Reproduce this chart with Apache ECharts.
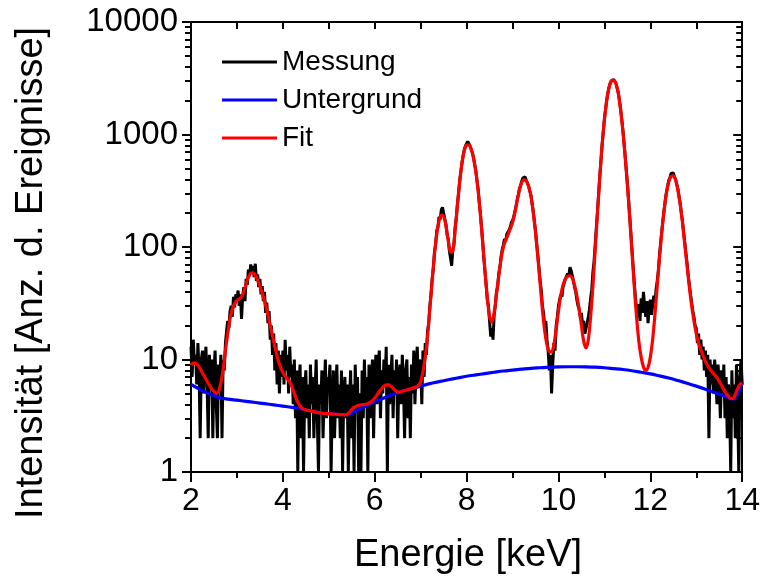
<!DOCTYPE html>
<html>
<head>
<meta charset="utf-8">
<script src="https://cdn.jsdelivr.net/npm/echarts@6/dist/echarts.min.js"></script>
<style>
  html, body { margin: 0; padding: 0; background: #fff; }
  #chart { width: 763px; height: 584px; }
</style>
</head>
<body>
<div id="chart"></div>
<script>
// EDX-Spektrum: gemessene Zählrate, Untergrund und Fit über der Energie

const FONT = '"Liberation Sans", Arial, Helvetica, sans-serif';

// Messkanäle: Start 2 keV, Breite 0.025 keV
const messungStart = 2.0;
const messungStep = 0.025;
const messung = [
  // 2.000 – 2.975 keV
  13, 7, 15, 9, 11, 6, 14, 8, 2, 10, 12, 5, 9, 13, 6, 2, 11, 7, 10, 2,
  8, 12, 4, 2, 9, 6, 11, 2, 10, 8, 14, 18, 22, 19, 27, 30, 24, 36, 29, 38,
  // 3.000 – 3.975 keV
  35, 41, 30, 38, 23, 36, 44, 33, 52, 46, 63, 55, 70, 58, 68, 54, 71, 50, 57, 44,
  52, 38, 45, 33, 40, 26, 32, 21, 27, 15, 20, 11, 17, 8, 14, 6, 12, 5, 11, 7,
  // 4.000 – 4.975 keV
  12, 6, 15, 8, 11, 5, 13, 7, 9, 4, 10, 3, 8, 1, 6, 9, 2, 7, 1, 5,
  8, 3, 6, 2, 9, 4, 7, 2, 5, 10, 3, 1, 6, 4, 8, 2, 5, 10, 3, 7,
  // 5.000 – 5.975 keV
  6, 9, 1, 4, 8, 2, 5, 9, 3, 6, 2, 8, 1, 5, 7, 3, 6, 1, 4, 8,
  2, 6, 1, 9, 4, 7, 1, 5, 1, 8, 3, 10, 4, 7, 1, 9, 3, 6, 10, 2,
  // 6.000 – 6.975 keV
  7, 11, 4, 9, 12, 3, 8, 5, 10, 6, 13, 1, 9, 4, 7, 11, 3, 8, 5, 10,
  2, 7, 9, 4, 11, 6, 2, 8, 10, 3, 7, 2, 9, 5, 12, 4, 8, 13, 6, 10,
  // 7.000 – 7.975 keV
  9, 4, 12, 7, 14, 11, 18, 21, 30, 38, 52, 64, 90, 105, 140, 150, 185, 175, 215, 225,
  200, 178, 160, 128, 118, 92, 80, 68, 95, 105, 150, 180, 240, 300, 390, 470, 560, 650, 735, 790,
  // 8.000 – 8.975 keV
  830, 870, 850, 790, 760, 690, 630, 545, 480, 395, 330, 250, 200, 150, 112, 80, 60, 46, 34, 30,
  22, 16, 19, 15, 25, 30, 40, 44, 58, 66, 82, 95, 104, 118, 112, 130, 125, 142, 150, 165,
  // 9.000 – 9.975 keV
  172, 185, 205, 230, 262, 290, 330, 350, 385, 410, 400, 420, 390, 370, 350, 315, 290, 245, 210, 170,
  140, 108, 85, 66, 50, 42, 30, 26, 20, 22, 15, 12, 8, 11, 5, 9, 14, 12, 20, 24,
  // 10.000 – 10.975 keV
  30, 34, 38, 36, 44, 48, 52, 50, 58, 55, 66, 62, 56, 50, 44, 40, 34, 30, 28, 24,
  26, 20, 22, 17, 19, 21, 24, 28, 35, 42, 60, 75, 105, 150, 210, 300, 430, 580, 810, 1050,
  // 11.000 – 11.975 keV
  1380, 1650, 2020, 2330, 2640, 2850, 3000, 3120, 3080, 2980, 2870, 2600, 2380, 2050, 1720, 1400, 1120, 860, 660, 490,
  370, 270, 190, 135, 95, 68, 48, 36, 28, 24, 31, 22, 35, 26, 40, 30, 24, 33, 21, 29,
  // 12.000 – 12.975 keV
  34, 25, 30, 37, 32, 42, 50, 62, 85, 110, 140, 175, 215, 260, 305, 345, 390, 410, 450, 440,
  455, 420, 400, 360, 330, 280, 245, 200, 170, 135, 110, 88, 72, 56, 46, 38, 32, 27, 24, 20,
  // 13.000 – 14.000 keV
  19, 14, 17, 11, 15, 10, 13, 8, 12, 7, 11, 2, 10, 6, 9, 5, 10, 7, 4, 9,
  6, 3, 8, 5, 9, 3, 7, 2, 6, 4, 1, 8, 3, 6, 2, 9, 4, 1, 7, 10,
  6
];

// Fitkurve: Start 2 keV, Schritt 0.05 keV
const fitStart = 2.0;
const fitStep = 0.05;
const fit = [
  8.9, 9.3, 9.3, 8.9, 8.3, 7.6, 7.0, 6.4, 5.9, 5.5, 5.2, 5.0, 5.2, 6.2, 8.2, 12, 17, 23, 28, 31.5,
  33.5, 34.5, 36, 40, 47, 54, 58.5, 59, 56, 51, 45, 39, 33, 27.5, 22.5, 18, 14.5, 11.8, 9.8, 8.5,
  7.7, 7.1, 6.7, 6.3, 5.7, 5.0, 4.4, 4.0, 3.75, 3.62, 3.58, 3.53, 3.5, 3.46, 3.42, 3.38, 3.35, 3.33, 3.31, 3.3,
  3.3, 3.28, 3.27, 3.26, 3.25, 3.24, 3.23, 3.22, 3.25, 3.4, 3.6, 3.75, 3.85, 3.92, 3.95, 3.97, 4.0, 4.05, 4.15, 4.3,
  4.55, 4.85, 5.2, 5.5, 5.8, 5.95, 5.95, 5.8, 5.55, 5.3, 5.15, 5.12, 5.22, 5.3, 5.37, 5.45, 5.52, 5.6, 5.7, 5.85,
  6.3, 7.8, 10.5, 16, 28, 50, 85, 130, 170, 192, 188, 155, 115, 90, 92, 140, 235, 380, 560, 720,
  805, 810, 740, 620, 470, 320, 195, 110, 62, 36, 24, 21.5, 26, 38, 55, 78, 100, 115, 128, 145,
  165, 200, 255, 320, 375, 395, 385, 345, 285, 205, 135, 82, 48, 28, 18, 13.5, 11.8, 11.7, 13.5, 18.5,
  27, 37, 46, 52, 55, 55.5, 53, 46, 37, 28, 20, 14.5, 12.7, 15, 24, 45, 95, 200, 420, 800,
  1350, 2000, 2600, 2980, 3050, 2850, 2350, 1700, 1100, 650, 360, 185, 92, 45, 24, 14.5, 10.5, 8.6, 8.0, 8.5,
  10.5, 15, 25, 45, 80, 135, 210, 300, 380, 425, 430, 395, 320, 240, 165, 105, 68, 44, 30, 22,
  17, 14, 12.2, 10.8, 9.6, 8.8, 8.2, 7.7, 7.3, 6.9, 6.4, 5.9, 5.4, 5.0, 4.7, 4.5, 4.5, 4.9, 5.5, 6.0,
  6.2
];

// Untergrund: Start 2 keV, Schritt 0.2 keV
const untergrundStart = 2.0;
const untergrundStep = 0.2;
const untergrund = [
  6.0, 5.4, 4.95, 4.6, 4.45, 4.35, 4.25, 4.15, 4.05, 3.95,
  3.85, 3.75, 3.65, 3.5, 3.35, 3.3, 3.25, 3.22, 3.5, 3.85,
  4.2, 4.55, 4.9, 5.2, 5.5, 5.8, 6.1, 6.35, 6.6, 6.85,
  7.1, 7.3, 7.5, 7.7, 7.9, 8.05, 8.2, 8.35, 8.45, 8.55,
  8.6, 8.62, 8.62, 8.6, 8.55, 8.45, 8.3, 8.15, 7.95, 7.7,
  7.45, 7.15, 6.85, 6.5, 6.15, 5.8, 5.45, 5.1, 4.75, 4.45,
  6.2
];

// Achsenbeschriftung
const yMajorTicks = [1, 10, 100, 1000, 10000];
const yMinorTicks = [2, 3, 4, 5, 6, 7, 8, 9, 20, 30, 40, 50, 60, 70, 80, 90,
  200, 300, 400, 500, 600, 700, 800, 900, 2000, 3000, 4000, 5000, 6000, 7000, 8000, 9000];
const xRange = [2, 14];
const xTitle = 'Energie [keV]';
const yTitle = 'Intensität [Anz. d. Ereignisse]';

function pairs(start, step, values) {
  return values.map((v, i) => [+(start + i * step).toFixed(3), v]);
}

const chart = echarts.init(document.getElementById('chart'), null, { renderer: 'canvas' });

const lineStyleAxis = { color: '#000', width: 2 };

function logAxis(extra) {
  return Object.assign({
    type: 'log',
    logBase: 10,
    min: 1,
    max: 10000,
    splitLine: { show: false },
    axisLine: { show: true, lineStyle: lineStyleAxis },
    axisLabel: { show: false },
    axisTick: { show: true, lineStyle: lineStyleAxis }
  }, extra);
}

chart.setOption({
  animation: false,
  backgroundColor: '#fff',
  textStyle: { fontFamily: FONT },
  grid: { left: 191, right: 18, top: 22, bottom: 112, containLabel: false },
  legend: {
    orient: 'vertical',
    left: 217,
    top: 43,
    itemWidth: 55,
    itemHeight: 3,
    itemGap: 10,
    icon: 'rect',
    textStyle: { fontSize: 28, color: '#000', fontFamily: FONT },
    data: ['Messung', 'Untergrund', 'Fit']
  },
  graphic: [
    {
      type: 'text',
      x: 468,
      y: 556,
      style: {
        text: xTitle,
        font: '38px ' + FONT,
        fill: '#000',
        align: 'center',
        verticalAlign: 'middle'
      }
    },
    {
      type: 'text',
      x: 32,
      y: 273,
      rotation: Math.PI / 2,
      style: {
        text: yTitle,
        font: '38px ' + FONT,
        fill: '#000',
        align: 'center',
        verticalAlign: 'middle'
      }
    }
  ],
  xAxis: [
    {
      type: 'value',
      min: xRange[0],
      max: xRange[1],
      interval: 2,
      position: 'bottom',
      splitLine: { show: false },
      axisLine: { lineStyle: lineStyleAxis },
      axisTick: { inside: false, length: 10, lineStyle: lineStyleAxis },
      minorTick: { show: true, splitNumber: 2, length: 6, lineStyle: lineStyleAxis },
      minorSplitLine: { show: false },
      axisLabel: { fontSize: 32, color: '#000', margin: 13, fontFamily: FONT }
    },
    {
      type: 'value',
      min: xRange[0],
      max: xRange[1],
      interval: 1,
      position: 'top',
      splitLine: { show: false },
      axisLine: { lineStyle: lineStyleAxis },
      axisTick: { inside: true, length: 7, lineStyle: lineStyleAxis },
      axisLabel: { show: false }
    }
  ],
  yAxis: [
    logAxis({
      position: 'left',
      offset: 0,
      axisTick: { show: true, inside: false, length: 9, lineStyle: lineStyleAxis, customValues: yMajorTicks },
      axisLabel: {
        show: true, fontSize: 33, color: '#000', margin: 13, fontFamily: FONT,
        customValues: yMajorTicks,
        formatter: v => String(Math.round(v))
      }
    }),
    logAxis({
      position: 'left',
      offset: 0,
      axisLine: { show: false },
      axisTick: { show: true, inside: false, length: 6, lineStyle: lineStyleAxis, customValues: yMinorTicks }
    }),
    logAxis({
      position: 'right',
      offset: 0,
      axisTick: { show: true, inside: true, length: 9, lineStyle: lineStyleAxis, customValues: yMajorTicks }
    }),
    logAxis({
      position: 'right',
      offset: 0,
      axisLine: { show: false },
      axisTick: { show: true, inside: true, length: 6, lineStyle: lineStyleAxis, customValues: yMinorTicks }
    })
  ],
  series: [
    {
      name: 'Messung',
      type: 'line',
      data: pairs(messungStart, messungStep, messung),
      showSymbol: false,
      color: '#000',
      lineStyle: { color: '#000', width: 3 },
      z: 2
    },
    {
      name: 'Untergrund',
      type: 'line',
      data: pairs(untergrundStart, untergrundStep, untergrund),
      showSymbol: false,
      smooth: 0.3,
      color: '#0000ff',
      lineStyle: { color: '#0000ff', width: 3.2 },
      z: 3
    },
    {
      name: 'Fit',
      type: 'line',
      data: pairs(fitStart, fitStep, fit),
      showSymbol: false,
      smooth: 0.3,
      color: '#ff0000',
      lineStyle: { color: '#ff0000', width: 3.2 },
      z: 4
    }
  ]
});
</script>
</body>
</html>
